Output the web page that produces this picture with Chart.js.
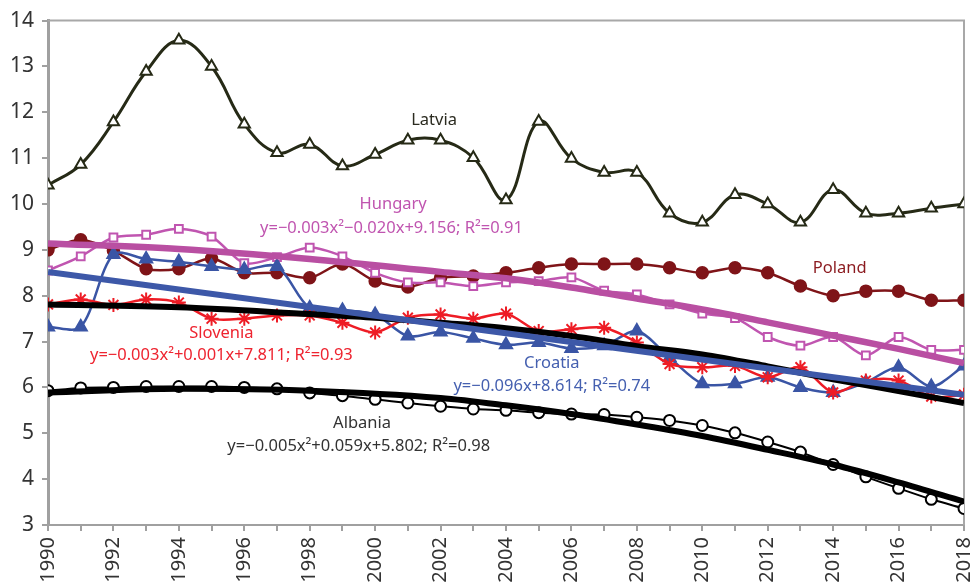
<!DOCTYPE html>
<html>
<head>
<meta charset="utf-8">
<script src="https://cdn.jsdelivr.net/npm/chart.js@4/dist/chart.umd.min.js"></script>
<style>
  html, body { margin: 0; padding: 0; background: #fff; }
</style>
</head>
<body>
<canvas id="chart" width="974" height="587"></canvas>
<script>
const years = [1990, 1991, 1992, 1993, 1994, 1995, 1996, 1997, 1998, 1999, 2000, 2001, 2002, 2003, 2004,
  2005, 2006, 2007, 2008, 2009, 2010, 2011, 2012, 2013, 2014, 2015, 2016, 2017, 2018];

const latvia = [10.41, 10.86, 11.79, 12.89, 13.57, 13.0, 11.74, 11.12, 11.3, 10.83, 11.08, 11.39, 11.39, 11.01, 10.09,
  11.8, 10.99, 10.69, 10.69, 9.8, 9.6, 10.2, 10.0, 9.6, 10.31, 9.8, 9.8, 9.91, 10.0];
const hungary = [8.55, 8.86, 9.27, 9.33, 9.46, 9.29, 8.71, 8.84, 9.05, 8.86, 8.5, 8.29, 8.29, 8.21, 8.29,
  8.32, 8.4, 8.11, 8.03, 7.81, 7.61, 7.51, 7.1, 6.91, 7.1, 6.7, 7.1, 6.82, 6.82];
const poland = [9.0, 9.22, 8.98, 8.59, 8.59, 8.81, 8.5, 8.5, 8.39, 8.69, 8.32, 8.19, 8.39, 8.43, 8.5,
  8.61, 8.69, 8.69, 8.69, 8.61, 8.5, 8.61, 8.5, 8.21, 8.0, 8.1, 8.1, 7.9, 7.9];
const slovenia = [7.81, 7.92, 7.8, 7.92, 7.85, 7.5, 7.5, 7.57, 7.57, 7.41, 7.2, 7.52, 7.59, 7.5, 7.61,
  7.23, 7.27, 7.3, 6.98, 6.51, 6.44, 6.47, 6.22, 6.44, 5.89, 6.15, 6.15, 5.8, 5.84];
const croatia = [7.32, 7.32, 8.9, 8.8, 8.74, 8.64, 8.57, 8.64, 7.73, 7.68, 7.59, 7.12, 7.21, 7.07, 6.93,
  6.98, 6.85, 6.91, 7.23, 6.65, 6.08, 6.08, 6.22, 6.0, 5.89, 6.11, 6.44, 6.02, 6.47];
const albania = [5.93, 5.99, 6.0, 6.02, 6.02, 6.02, 6.0, 5.97, 5.88, 5.82, 5.74, 5.66, 5.59, 5.53, 5.5,
  5.45, 5.42, 5.41, 5.35, 5.28, 5.17, 5.01, 4.81, 4.59, 4.32, 4.05, 3.8, 3.56, 3.36];

// fitted trend curves at a few years
const hungaryTrendYears = [1990, 1994, 1998, 2002, 2004, 2006, 2008, 2010, 2012, 2014, 2016, 2018];
const hungaryTrend = [9.14, 9.02, 8.8, 8.52, 8.38, 8.18, 7.94, 7.7, 7.42, 7.13, 6.84, 6.53];
const sloveniaTrendYears = [1990, 1994, 1998, 2000, 2002, 2004, 2006, 2008, 2010, 2012, 2014, 2016, 2018];
const sloveniaTrend = [7.81, 7.75, 7.6, 7.52, 7.41, 7.29, 7.12, 6.9, 6.72, 6.46, 6.18, 5.92, 5.66];
const croatiaTrendYears = [1990, 2018];
const croatiaTrend = [8.52, 5.84];
const albaniaTrendYears = [1990, 1994, 1998, 2002, 2004, 2006, 2008, 2010, 2012, 2014, 2016, 2018];
const albaniaTrend = [5.89, 5.97, 5.93, 5.77, 5.61, 5.42, 5.19, 4.94, 4.64, 4.32, 3.93, 3.51];

const yTicks = [3, 4, 5, 6, 7, 8, 9, 10, 11, 12, 13, 14];

const notes = [
  { text: 'Latvia', x: 2001.8, y: 11.83, color: '#2b2b20' },
  { text: 'Hungary', x: 2000.55, y: 9.99, color: '#c055b0' },
  { text: 'y=\u22120.003x\u00b2\u22120.020x+9.156; R\u00b2=0.91', x: 2000.5, y: 9.47, color: '#c055b0' },
  { text: 'Poland', x: 2014.2, y: 8.6, color: '#8b1a1f' },
  { text: 'Slovenia', x: 1995.3, y: 7.18, color: '#ee2430' },
  { text: 'y=\u22120.003x\u00b2+0.001x+7.811; R\u00b2=0.93', x: 1995.3, y: 6.69, color: '#ee2430' },
  { text: 'Croatia', x: 2005.4, y: 6.52, color: '#4560b0' },
  { text: 'y=\u22120.096x+8.614; R\u00b2=0.74', x: 2005.4, y: 6.02, color: '#4560b0' },
  { text: 'Albania', x: 1999.6, y: 5.21, color: '#333333' },
  { text: 'y=\u22120.005x\u00b2+0.059x+5.802; R\u00b2=0.98', x: 1999.5, y: 4.72, color: '#333333' }
];

const pts = (xs, ys) => xs.map((x, i) => ({ x: x, y: ys[i] }));

const notesPlugin = {
  id: 'notes',
  beforeDatasetsDraw(chart) {
    const a = chart.chartArea, c = chart.ctx;
    c.save();
    c.strokeStyle = '#a8a8a8';
    c.lineWidth = 2;
    c.beginPath();
    c.moveTo(a.left, a.top);
    c.lineTo(a.right, a.top);
    c.lineTo(a.right, a.bottom);
    c.stroke();
    c.restore();
  },
  afterDatasetsDraw(chart) {
    const c = chart.ctx, sx = chart.scales.x, sy = chart.scales.y;
    c.save();
    c.font = '16.5px "Noto Sans"';
    c.textAlign = 'center';
    c.textBaseline = 'middle';
    notes.forEach(n => {
      c.fillStyle = n.color;
      c.fillText(n.text, sx.getPixelForValue(n.x), sy.getPixelForValue(n.y));
    });
    c.restore();
  }
};

const trend = (label, xs, ys, color, width) => ({
  label: label,
  data: pts(xs, ys),
  borderColor: color,
  borderWidth: width,
  pointRadius: 0,
  cubicInterpolationMode: 'monotone',
  order: 0
});

new Chart(document.getElementById('chart'), {
  type: 'line',
  data: {
    datasets: [
      trend('Hungary trend', hungaryTrendYears, hungaryTrend, '#b94fa2', 6.5),
      trend('Croatia trend', croatiaTrendYears, croatiaTrend, '#3d58a8', 6),
      trend('Slovenia trend', sloveniaTrendYears, sloveniaTrend, '#000000', 6),
      trend('Albania trend', albaniaTrendYears, albaniaTrend, '#000000', 6),
      {
        label: 'Latvia', data: pts(years, latvia), borderColor: '#262a16', borderWidth: 3,
        pointStyle: 'triangle', pointRadius: 6.5, pointBackgroundColor: '#ffffff',
        pointBorderColor: '#262a16', pointBorderWidth: 2, tension: 0.4, order: 5
      },
      {
        label: 'Hungary', data: pts(years, hungary), borderColor: '#c055b0', borderWidth: 2.5,
        pointStyle: 'rect', pointRadius: 5.5, pointBackgroundColor: '#ffffff',
        pointBorderColor: '#c055b0', pointBorderWidth: 2, tension: 0.3, order: 4
      },
      {
        label: 'Poland', data: pts(years, poland), borderColor: '#7f1418', borderWidth: 2.5,
        pointStyle: 'circle', pointRadius: 5.5, pointBackgroundColor: '#7f1418',
        pointBorderColor: '#7f1418', tension: 0.3, order: 4
      },
      {
        label: 'Slovenia', data: pts(years, slovenia), borderColor: '#ee1c25', borderWidth: 2.5,
        pointStyle: 'star', pointRadius: 7, pointBackgroundColor: '#ee1c25',
        pointBorderColor: '#ee1c25', pointBorderWidth: 2, tension: 0.3, order: 3
      },
      {
        label: 'Croatia', data: pts(years, croatia), borderColor: '#3a55a5', borderWidth: 2.5,
        pointStyle: 'triangle', pointRadius: 6.5, pointBackgroundColor: '#3a55a5',
        pointBorderColor: '#3a55a5', tension: 0.3, order: 3
      },
      {
        label: 'Albania', data: pts(years, albania), borderColor: '#000000', borderWidth: 2,
        pointStyle: 'circle', pointRadius: 5.5, pointBackgroundColor: '#ffffff',
        pointBorderColor: '#000000', pointBorderWidth: 2, tension: 0.3, order: 1
      }
    ]
  },
  options: {
    responsive: false,
    animation: false,
    layout: { padding: { top: 18, right: 10, left: 0, bottom: 0 } },
    plugins: { legend: { display: false }, tooltip: { enabled: false } },
    scales: {
      x: {
        type: 'linear',
        min: 1990,
        max: 2018,
        afterFit: s => { s.height = 62; s.paddingLeft = 0; s.paddingRight = 0; },
        afterBuildTicks: s => { s.ticks = years.map(v => ({ value: v })); },
        ticks: {
          autoSkip: false,
          minRotation: 90,
          maxRotation: 90,
          padding: 6,
          color: '#333333',
          font: { family: 'Noto Sans', size: 20 },
          callback: v => (v % 2 === 0 ? String(v) : '')
        },
        grid: { drawOnChartArea: false, tickLength: 6, color: '#a0a0a0', lineWidth: 2 },
        border: { color: '#a0a0a0', width: 2 }
      },
      y: {
        min: 3,
        max: 14,
        afterFit: s => { s.width = 48; },
        afterBuildTicks: s => { s.ticks = yTicks.map(v => ({ value: v })); },
        ticks: {
          padding: 8,
          color: '#333333',
          font: { family: 'Noto Sans', size: 21 }
        },
        grid: { drawOnChartArea: false, tickLength: 6, color: '#a0a0a0', lineWidth: 2 },
        border: { color: '#a0a0a0', width: 3 }
      }
    }
  },
  plugins: [notesPlugin]
});
</script>
</body>
</html>
